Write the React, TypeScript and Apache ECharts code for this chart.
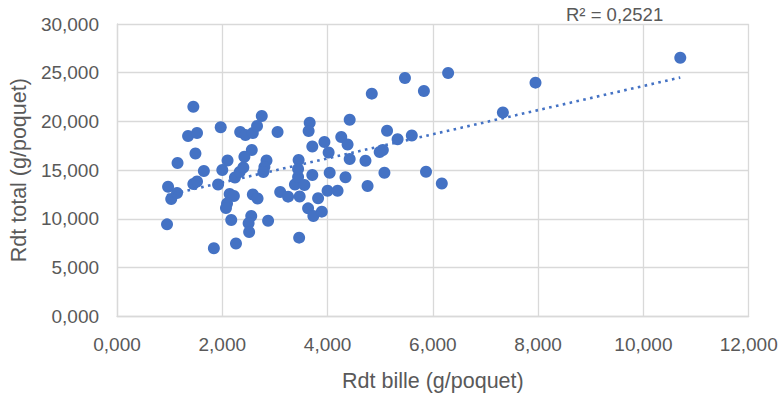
import React, { useEffect, useRef } from "react";
import * as echarts from "echarts";

const rdtBille: number[] = [
  0.95, 0.97, 1.03, 1.14, 1.15, 1.45, 1.35, 1.52, 1.49, 1.45,
  1.52, 1.65, 1.84, 1.92, 1.97, 2.0, 2.1, 2.14, 2.22, 2.09,
  2.07, 2.17, 2.26, 2.24, 2.33, 2.4, 2.34, 2.44, 2.58, 2.66,
  2.75, 2.56, 2.42, 2.84, 2.8, 2.58, 2.67, 2.55, 2.5, 2.51,
  2.78, 2.87, 3.05, 3.1, 3.25, 3.47, 3.38, 3.44, 3.44, 3.45,
  3.56, 3.71, 3.82, 3.63, 3.73, 3.89, 3.46, 3.66, 3.64, 3.71,
  3.94, 4.02, 4.0, 4.19, 4.04, 4.34, 4.42, 4.26, 4.38, 4.42,
  4.72, 4.76, 4.84, 5.13, 5.33, 5.6, 5.05, 4.99, 5.08, 5.47,
  5.83, 6.29, 5.87, 6.17, 7.33, 7.95, 10.7,
];

const rdtTotal: number[] = [
  9.44, 13.3, 12.04, 12.66, 15.73, 21.51, 18.51, 18.81, 16.71, 13.58,
  13.84, 14.91, 6.98, 13.53, 19.4, 15.02, 15.99, 12.55, 12.35, 11.58,
  11.12, 9.88, 7.47, 14.25, 14.81, 15.27, 18.92, 18.61, 18.81, 19.53,
  20.56, 17.07, 16.38, 15.99, 15.32, 12.5, 12.09, 10.29, 9.55, 8.65,
  14.81, 9.81, 18.92, 12.76, 12.28, 12.3, 13.53, 14.3, 15.12, 16.04,
  13.48, 14.5, 12.11, 11.08, 10.29, 10.74, 8.07, 19.87, 19.02, 17.43,
  17.89, 16.81, 12.89, 12.89, 14.74, 14.27, 20.17, 18.4, 17.63, 16.14,
  15.97, 13.37, 22.85, 19.05, 18.17, 18.56, 17.07, 16.86, 14.74, 24.46,
  23.12, 24.97, 14.84, 13.63, 20.92, 23.98, 26.54,
];

const xTitle = "Rdt bille (g/poquet)";
const yTitle = "Rdt total (g/poquet)";
const r2Label = "R² = 0,2521";

const fmt = (v: number) => v.toFixed(3).replace(".", ",");

export default function App() {
  const ref = useRef<HTMLDivElement>(null);

  useEffect(() => {
    if (!ref.current) return;
    const chart = echarts.init(ref.current, undefined, { renderer: "svg" });

    const n = rdtBille.length;
    const mx = rdtBille.reduce((a, b) => a + b, 0) / n;
    const my = rdtTotal.reduce((a, b) => a + b, 0) / n;
    let sxy = 0;
    let sxx = 0;
    for (let i = 0; i < n; i++) {
      sxy += (rdtBille[i] - mx) * (rdtTotal[i] - my);
      sxx += (rdtBille[i] - mx) ** 2;
    }
    const slope = sxy / sxx;
    const intercept = my - slope * mx;
    const xMin = Math.min(...rdtBille);
    const xMax = Math.max(...rdtBille);
    const trend = [
      [xMin, intercept + slope * xMin],
      [xMax, intercept + slope * xMax],
    ];

    const font = "'Liberation Sans', Arial, sans-serif";
    const gridColor = "#d9d9d9";
    const textColor = "#595959";

    chart.setOption({
      animation: false,
      backgroundColor: "#ffffff",
      textStyle: { fontFamily: font },
      grid: { left: 115, right: 34.3, top: 24, bottom: 84.7, containLabel: false },
      xAxis: {
        type: "value",
        min: 0,
        max: 12,
        interval: 2,
        name: xTitle,
        nameLocation: "middle",
        nameGap: 54,
        nameTextStyle: { fontSize: 21.5, color: textColor, fontFamily: font },
        axisLine: { show: true, lineStyle: { color: gridColor, width: 1.3 } },
        axisTick: { show: false },
        splitLine: { show: true, lineStyle: { color: gridColor, width: 1.3 } },
        axisLabel: {
          formatter: fmt,
          fontSize: 19,
          color: textColor,
          margin: 19,
          fontFamily: font,
        },
      },
      yAxis: {
        type: "value",
        min: 0,
        max: 30,
        interval: 5,
        name: yTitle,
        nameLocation: "middle",
        nameGap: 85,
        nameRotate: 90,
        nameTextStyle: { fontSize: 21.5, color: textColor, fontFamily: font },
        axisLine: { show: true, lineStyle: { color: gridColor, width: 1.3 } },
        axisTick: { show: false },
        splitLine: { show: true, lineStyle: { color: gridColor, width: 1.3 } },
        axisLabel: {
          formatter: fmt,
          fontSize: 19,
          color: textColor,
          margin: 18,
          fontFamily: font,
        },
      },
      series: [
        {
          type: "scatter",
          data: rdtBille.map((x, i) => [x, rdtTotal[i]]),
          symbol: "circle",
          symbolSize: 12,
          itemStyle: { color: "#4472C4", opacity: 1 },
          z: 2,
        },
        {
          type: "line",
          data: trend,
          symbol: "none",
          lineStyle: { color: "#4472C4", width: 2.6, type: [2.6, 4.4], cap: "butt" },
          z: 3,
          silent: true,
        },
      ],
      graphic: [
        {
          type: "text",
          left: 566,
          top: 5,
          style: {
            text: r2Label,
            fontSize: 18.5,
            fill: textColor,
            fontFamily: font,
          },
        },
      ],
    });

    return () => chart.dispose();
  }, []);

  return (
    <div
      ref={ref}
      style={{ position: "fixed", left: 0, top: 0, width: 783, height: 401 }}
    />
  );
}
